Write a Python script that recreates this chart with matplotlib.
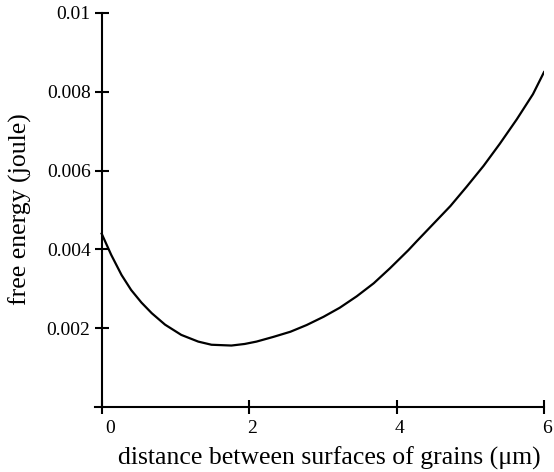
import matplotlib
matplotlib.use("Agg")
import matplotlib.pyplot as plt
from matplotlib.transforms import ScaledTranslation

plt.rcParams['font.family'] = ['Liberation Serif', 'DejaVu Serif']

# (distance in um, energy in joule)
distance = [0.00, 0.13, 0.27, 0.40, 0.54, 0.68, 0.86, 1.08, 1.31, 1.49,
            1.76, 1.94, 2.10, 2.33, 2.56, 2.78, 3.01, 3.23, 3.46, 3.69,
            3.91, 4.16, 4.27, 4.50, 4.73, 4.95, 5.18, 5.40, 5.63, 5.85, 6.00]
energy = [0.00440, 0.00386, 0.00335, 0.00297, 0.00265, 0.00238, 0.00209,
          0.00183, 0.00166, 0.00158, 0.00156, 0.00160, 0.00166, 0.00178,
          0.00191, 0.00208, 0.00229, 0.00252, 0.00281, 0.00314, 0.00352,
          0.00398, 0.00420, 0.00465, 0.00510, 0.00559, 0.00612, 0.00668,
          0.00730, 0.00794, 0.00850]

x_ticks = [0, 2, 4, 6]
y_ticks = [0.002, 0.004, 0.006, 0.008, 0.01]
y_tick_labels = ["0.002", "0.004", "0.006", "0.008", "0.01"]

fig = plt.figure(figsize=(5.54, 4.72), dpi=100)
ax = fig.add_axes([0.1715, 0.1377, 0.8105, 0.8348])

ax.plot(distance, energy, color='black', lw=1.6)

ax.set_xlim(-0.09, 6)
ax.set_ylim(0, 0.01)

for side in ['top', 'right']:
    ax.spines[side].set_visible(False)
ax.spines['left'].set_position(('data', 0))
ax.spines['left'].set_linewidth(1.5)
ax.spines['bottom'].set_linewidth(1.5)

ax.set_xticks(x_ticks)
ax.set_xticklabels([str(t) for t in x_ticks])
ax.set_yticks(y_ticks)
ax.set_yticklabels(y_tick_labels)
ax.tick_params(direction='inout', length=10, width=1.5, labelsize=14, pad=3)
ax.tick_params(axis='x', pad=4)

# nudge x tick labels to the right like the original
for i, lab in enumerate(ax.get_xticklabels()):
    dx = 8 if i == 0 else 3
    lab.set_transform(lab.get_transform() + ScaledTranslation(dx / 100, 0, fig.dpi_scale_trans))

fig.text(0.595, 0.03, "distance between surfaces of grains (\u03bcm)", fontsize=18.5,
         ha='center', va='center')
fig.text(0.036, 0.557, "free energy (joule)", fontsize=18.5, rotation=90,
         ha='center', va='center')

fig.savefig("out.png", dpi=100)
